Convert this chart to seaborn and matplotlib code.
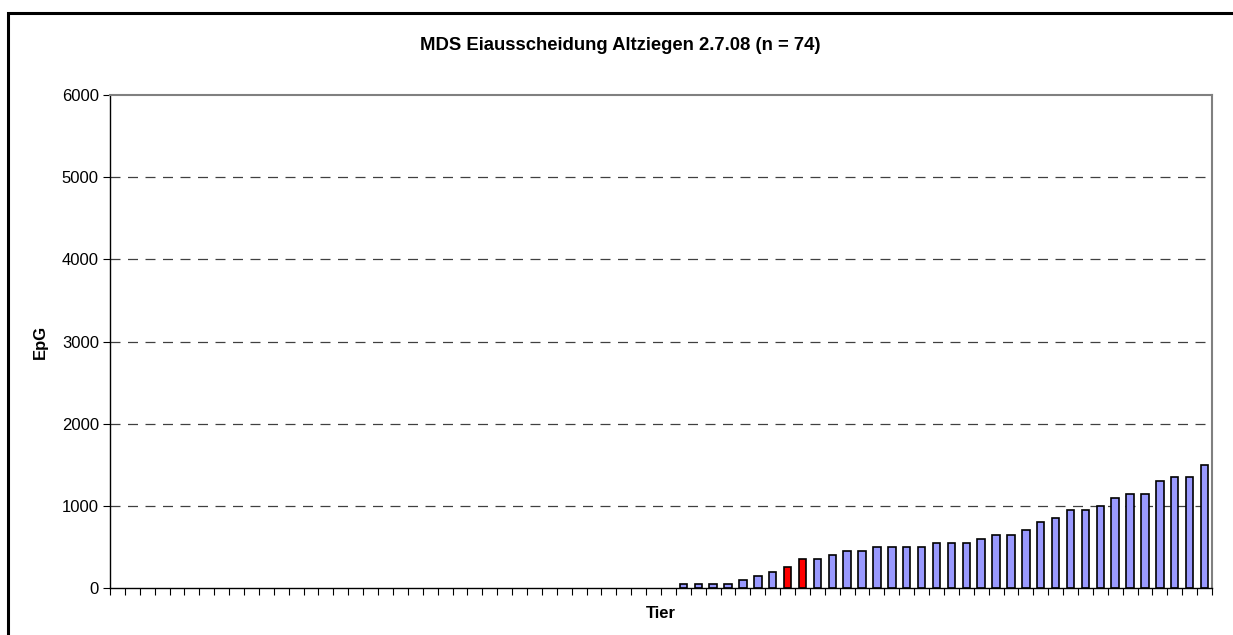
import numpy as np
import pandas as pd
import matplotlib
matplotlib.use('Agg')
import matplotlib.pyplot as plt
from matplotlib.patches import Rectangle
import seaborn as sns

# EpG values per animal, sorted ascending (n = 74)
epg = [0] * 38 + [50, 50, 50, 50, 100, 150, 200, 250, 350, 350, 400, 450, 450,
                  500, 500, 500, 500, 550, 550, 550, 600, 650, 650, 700, 800,
                  850, 950, 950, 1000, 1100, 1150, 1150, 1300, 1350, 1350, 1500]
highlight = [45, 46]  # the two red bars
title = 'MDS Eiausscheidung Altziegen 2.7.08 (n = 74)'
y_ticks = [0, 1000, 2000, 3000, 4000, 5000, 6000]

df = pd.DataFrame({'tier': np.arange(len(epg)), 'epg': epg})
df['grp'] = np.where(df['tier'].isin(highlight), 'rot', 'blau')

sns.set_style('white')
plt.rcParams['font.family'] = ['Liberation Sans', 'DejaVu Sans']
plt.rcParams['text.color'] = 'black'
plt.rcParams['axes.labelcolor'] = 'black'
plt.rcParams['xtick.color'] = 'black'
plt.rcParams['ytick.color'] = 'black'

fig = plt.figure(figsize=(12.33, 6.35), dpi=100)
ax = fig.add_axes([110 / 1233, 47 / 635, 1102 / 1233, 493 / 635])

sns.barplot(data=df, x='tier', y='epg', hue='grp', dodge=False,
            palette={'blau': '#9999FF', 'rot': '#FF0000'}, saturation=1,
            width=0.5, edgecolor='black', linewidth=1.2, legend=False, ax=ax)

# Excel draws nothing for zero values
for p in ax.patches:
    if p.get_height() == 0:
        p.set_visible(False)

ax.set_xlim(-0.5, len(epg) - 0.5)
ax.set_ylim(0, 6000)
ax.set_yticks(y_ticks)
ax.set_yticklabels([str(v) for v in y_ticks], fontsize=12)
for v in y_ticks[1:-1]:
    ax.axhline(v, color='#404040', lw=0.9, ls=(0, (8, 6)), zorder=0)

# category ticks sit between bars, Excel style
ax.set_xticks(np.arange(len(epg) + 1) - 0.5)
ax.set_xticklabels([])
ax.tick_params(axis='x', direction='out', length=5, width=0.8, bottom=True)
ax.tick_params(axis='y', direction='out', length=5, width=0.8, left=True, pad=3)

for s in ['left', 'bottom']:
    ax.spines[s].set_color('black')
    ax.spines[s].set_linewidth(1.0)
for s in ['top', 'right']:
    ax.spines[s].set_color('#808080')
    ax.spines[s].set_linewidth(1.5)

ax.set_xlabel('Tier', fontsize=12, fontweight='bold', va='center')
ax.xaxis.set_label_coords(0.5, -(613 - 588) / 493)
ax.set_ylabel('EpG', fontsize=12, fontweight='bold', va='center')
ax.yaxis.set_label_coords((40 - 110) / 1102, 0.5)
fig.suptitle(title, x=620 / 1233, y=1 - 46 / 635, va='center',
             fontsize=13.3, fontweight='bold')

# outer chart frame
fig.patches.append(Rectangle((8 / 1233, -0.1), 1.2, 1 - 13 / 635 + 0.1,
                             transform=fig.transFigure, fill=False,
                             edgecolor='black', lw=2.2))

fig.savefig('out.png', dpi=100)
